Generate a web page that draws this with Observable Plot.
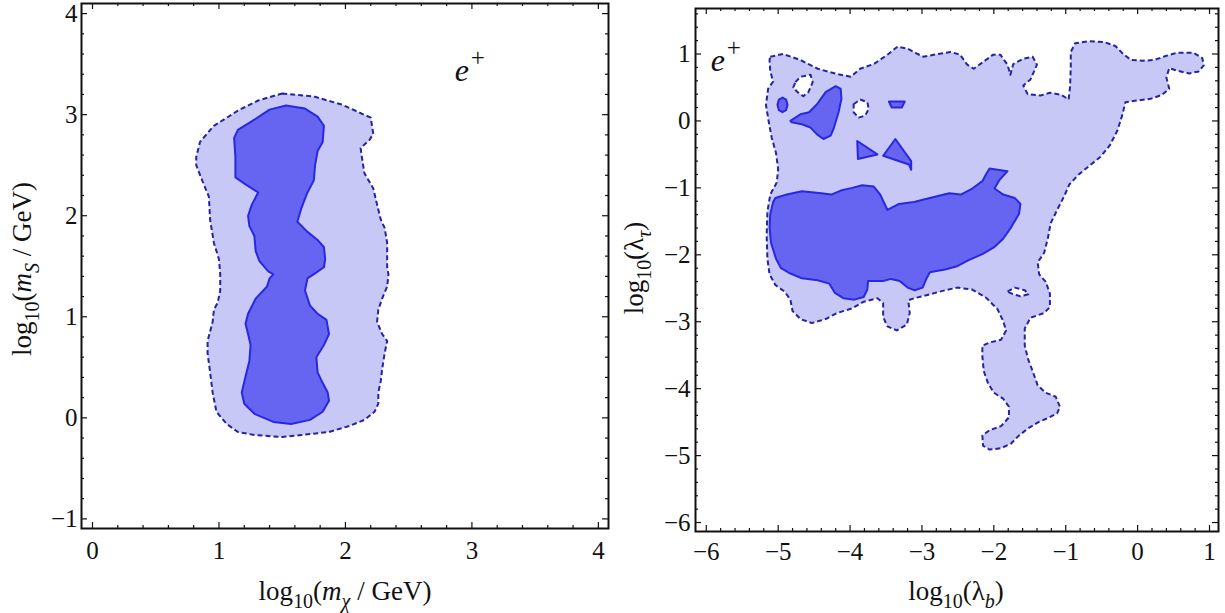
<!DOCTYPE html>
<html><head><meta charset="utf-8">
<script src="https://cdn.jsdelivr.net/npm/d3@7"></script>
<script src="https://cdn.jsdelivr.net/npm/@observablehq/plot@0.6"></script>
<style>
body{margin:0;background:#fff;}
#wrap{position:relative;width:1225px;height:613px;overflow:hidden;}
#wrap svg{position:absolute;top:0;}
</style></head><body><div id="wrap"></div>
<script>
// ---------- DATA (data units) ----------
// Left panel: log10(m_chi/GeV) vs log10(m_S/GeV)
const leftOuter = [[1.50,3.21],[1.75,3.18],[1.97,3.10],[2.20,2.97],[2.22,2.81],[2.19,2.75],[2.12,2.67],[2.13,2.58],[2.15,2.42],[2.22,2.27],[2.25,2.11],[2.28,1.96],[2.31,1.88],[2.33,1.73],[2.33,1.49],[2.34,1.42],[2.33,1.30],[2.29,1.18],[2.26,1.07],[2.25,0.95],[2.29,0.83],[2.33,0.76],[2.31,0.64],[2.29,0.48],[2.28,0.37],[2.26,0.25],[2.26,0.14],[2.23,0.06],[2.15,-0.02],[2.03,-0.08],[1.87,-0.14],[1.65,-0.17],[1.50,-0.19],[1.28,-0.17],[1.15,-0.14],[1.06,-0.06],[0.98,0.06],[0.95,0.25],[0.93,0.45],[0.91,0.64],[0.91,0.76],[0.95,0.95],[0.96,1.07],[0.99,1.14],[1.01,1.26],[1.01,1.42],[1.00,1.57],[0.96,1.73],[0.93,1.96],[0.92,2.19],[0.88,2.31],[0.82,2.50],[0.82,2.58],[0.85,2.73],[0.96,2.89],[1.15,3.04],[1.31,3.14]];
const leftInner = [[1.53,3.09],[1.68,3.06],[1.78,2.98],[1.83,2.89],[1.82,2.73],[1.78,2.64],[1.76,2.50],[1.75,2.35],[1.70,2.23],[1.65,2.07],[1.62,1.94],[1.70,1.84],[1.78,1.76],[1.83,1.69],[1.84,1.57],[1.83,1.49],[1.76,1.43],[1.70,1.38],[1.68,1.26],[1.72,1.11],[1.78,1.03],[1.85,0.97],[1.87,0.83],[1.83,0.72],[1.77,0.60],[1.78,0.45],[1.81,0.37],[1.86,0.25],[1.87,0.17],[1.82,0.06],[1.72,-0.02],[1.57,-0.06],[1.43,-0.04],[1.28,0.04],[1.20,0.14],[1.18,0.25],[1.21,0.41],[1.24,0.56],[1.25,0.72],[1.23,0.83],[1.21,0.93],[1.23,1.03],[1.29,1.18],[1.38,1.30],[1.40,1.38],[1.43,1.42],[1.39,1.45],[1.32,1.55],[1.29,1.65],[1.28,1.80],[1.24,1.90],[1.23,2.00],[1.26,2.11],[1.31,2.23],[1.21,2.31],[1.13,2.38],[1.13,2.58],[1.12,2.77],[1.15,2.85],[1.28,2.95],[1.40,3.05]];
const leftNote = [{x: 2.92, y: 3.33}];
const leftXTicks = [0, 1, 2, 3, 4];
const leftYTicks = [-1, 0, 1, 2, 3, 4];

// Right panel: log10(lambda_b) vs log10(lambda_tau)
const rightOuter = [[-5.11,0.96],[-4.93,1.00],[-4.69,0.91],[-4.45,0.78],[-4.18,0.70],[-3.99,0.66],[-3.86,0.78],[-3.67,0.85],[-3.48,0.99],[-3.34,1.11],[-3.20,1.08],[-3.06,1.00],[-2.98,0.96],[-2.78,1.00],[-2.60,1.03],[-2.47,0.99],[-2.37,0.84],[-2.28,0.78],[-2.15,0.88],[-2.01,0.99],[-1.91,0.99],[-1.81,0.84],[-1.77,0.69],[-1.73,0.85],[-1.59,0.93],[-1.46,0.96],[-1.40,0.84],[-1.49,0.62],[-1.59,0.53],[-1.53,0.40],[-1.35,0.38],[-1.22,0.42],[-1.06,0.39],[-0.96,0.32],[-0.94,0.51],[-0.93,0.80],[-0.93,1.03],[-0.87,1.16],[-0.68,1.19],[-0.47,1.18],[-0.31,1.12],[-0.20,1.00],[-0.09,0.91],[0.07,0.90],[0.23,0.91],[0.39,0.97],[0.55,1.02],[0.77,1.02],[0.90,0.94],[0.92,0.83],[0.85,0.74],[0.72,0.71],[0.55,0.75],[0.44,0.79],[0.40,0.65],[0.44,0.48],[0.34,0.39],[0.18,0.33],[-0.04,0.30],[-0.17,0.28],[-0.21,0.10],[-0.28,-0.14],[-0.39,-0.37],[-0.52,-0.54],[-0.66,-0.66],[-0.82,-0.80],[-0.95,-0.95],[-1.02,-1.12],[-1.12,-1.33],[-1.21,-1.53],[-1.25,-1.76],[-1.30,-1.97],[-1.39,-2.11],[-1.37,-2.29],[-1.28,-2.40],[-1.22,-2.58],[-1.22,-2.78],[-1.30,-2.87],[-1.49,-2.94],[-1.57,-3.10],[-1.57,-3.36],[-1.52,-3.57],[-1.46,-3.74],[-1.39,-3.95],[-1.28,-4.06],[-1.14,-4.12],[-1.08,-4.27],[-1.12,-4.37],[-1.25,-4.44],[-1.38,-4.50],[-1.52,-4.59],[-1.65,-4.70],[-1.76,-4.82],[-1.90,-4.89],[-2.06,-4.91],[-2.15,-4.85],[-2.16,-4.70],[-2.06,-4.62],[-1.90,-4.56],[-1.79,-4.43],[-1.79,-4.27],[-1.87,-4.15],[-2.00,-4.06],[-2.08,-3.92],[-2.14,-3.74],[-2.16,-3.51],[-2.16,-3.36],[-2.06,-3.31],[-1.90,-3.27],[-1.83,-3.13],[-1.87,-2.99],[-1.95,-2.81],[-2.11,-2.64],[-2.30,-2.52],[-2.51,-2.49],[-2.68,-2.53],[-2.89,-2.59],[-3.11,-2.65],[-3.19,-2.68],[-3.17,-2.87],[-3.21,-3.04],[-3.35,-3.13],[-3.48,-3.07],[-3.54,-2.93],[-3.54,-2.72],[-3.62,-2.65],[-3.81,-2.70],[-3.97,-2.80],[-4.18,-2.87],[-4.34,-2.96],[-4.53,-3.02],[-4.69,-2.96],[-4.80,-2.84],[-4.83,-2.67],[-4.91,-2.55],[-5.04,-2.45],[-5.12,-2.29],[-5.15,-2.06],[-5.16,-1.71],[-5.15,-1.36],[-5.11,-1.10],[-5.02,-0.92],[-5.00,-0.72],[-5.03,-0.48],[-5.09,-0.25],[-5.13,-0.02],[-5.17,0.24],[-5.14,0.48],[-5.07,0.59],[-5.11,0.74],[-5.12,0.91]];
const rightHole1 = [[-4.76,0.58],[-4.69,0.66],[-4.55,0.69],[-4.52,0.58],[-4.58,0.43],[-4.65,0.37],[-4.73,0.43],[-4.79,0.50]];
const rightHole2 = [[-3.95,0.25],[-3.86,0.32],[-3.76,0.28],[-3.74,0.18],[-3.79,0.08],[-3.88,0.05],[-3.95,0.13]];
const rightHole3 = [[-1.81,-2.55],[-1.71,-2.49],[-1.57,-2.53],[-1.52,-2.59],[-1.63,-2.62],[-1.73,-2.59]];
const rightInnerMain = [[-5.04,-1.15],[-4.88,-1.10],[-4.67,-1.05],[-4.40,-1.08],[-4.26,-1.10],[-4.13,-1.04],[-3.97,-1.00],[-3.83,-0.96],[-3.67,-0.98],[-3.58,-1.10],[-3.48,-1.33],[-3.32,-1.24],[-3.11,-1.21],[-2.89,-1.15],[-2.62,-1.08],[-2.46,-1.10],[-2.30,-1.01],[-2.16,-0.90],[-2.11,-0.80],[-2.06,-0.71],[-1.81,-0.75],[-1.92,-0.88],[-1.99,-1.01],[-1.87,-1.10],[-1.71,-1.15],[-1.63,-1.24],[-1.65,-1.39],[-1.76,-1.59],[-1.87,-1.76],[-2.00,-1.89],[-2.16,-1.99],[-2.35,-2.08],[-2.51,-2.17],[-2.68,-2.22],[-2.89,-2.26],[-2.94,-2.36],[-2.99,-2.49],[-3.10,-2.53],[-3.20,-2.49],[-3.31,-2.39],[-3.43,-2.36],[-3.54,-2.39],[-3.75,-2.39],[-3.76,-2.52],[-3.81,-2.63],[-3.94,-2.67],[-4.09,-2.65],[-4.21,-2.57],[-4.29,-2.43],[-4.45,-2.38],[-4.67,-2.35],[-4.83,-2.28],[-4.96,-2.20],[-5.03,-2.06],[-5.10,-1.82],[-5.12,-1.59],[-5.11,-1.39],[-5.07,-1.21]];
const rightInnerBlob = [[-4.83,0.00],[-4.69,0.10],[-4.57,0.13],[-4.46,0.25],[-4.34,0.43],[-4.20,0.52],[-4.13,0.48],[-4.12,0.33],[-4.16,0.13],[-4.23,-0.12],[-4.27,-0.22],[-4.37,-0.27],[-4.46,-0.20],[-4.55,-0.10],[-4.67,-0.05],[-4.81,-0.02]];
const rightInnerDot = [[-4.94,0.35],[-4.89,0.32],[-4.87,0.24],[-4.89,0.16],[-4.94,0.13],[-4.99,0.16],[-5.01,0.24],[-4.99,0.32]];
const rightInnerBar = [[-3.46,0.29],[-3.24,0.29],[-3.28,0.20],[-3.42,0.20]];
const rightInnerTri1 = [[-3.90,-0.30],[-3.62,-0.50],[-3.89,-0.57]];
const rightInnerTri2 = [[-3.37,-0.27],[-3.54,-0.52],[-3.18,-0.65],[-3.15,-0.73],[-3.15,-0.60]];
const rightNote = [{x: -5.84, y: 0.75}];
const rightXTicks = [-6, -5, -4, -3, -2, -1, 0, 1];
const rightYTicks = [-6, -5, -4, -3, -2, -1, 0, 1];

// ---------- STYLE ----------
const SERIF = "Liberation Serif, Times New Roman, DejaVu Serif, serif";
const LIGHT = "#c8c8f7";
const DARK = "#6565f1";
const OSTROKE = "#2323a4";
const ISTROKE = "#2828e0";
const INK = "#111";

function rows(polys) {
  return polys.flatMap((p, i) => p.map(([x, y]) => ({x, y, id: i})));
}
function minors(lo, hi) {
  return d3.range(Math.round(lo * 5), Math.round(hi * 5) + 1).map(k => k / 5).filter(v => Math.abs(v - Math.round(v)) > 1e-9);
}
const fmt = d => (d < 0 ? "\u2212" + (-d) : String(d));

function panel(o) {
  const iw = o.width - o.ml - o.mr, ih = o.height - o.mt - o.mb;
  const L = 6, l = 3;
  const xm = minors(Math.ceil(o.xd[0] * 5) / 5, Math.floor(o.xd[1] * 5) / 5);
  const ym = minors(Math.ceil(o.yd[0] * 5) / 5, Math.floor(o.yd[1] * 5) / 5);
  const tick = {stroke: INK, strokeWidth: 1.2};
  const lab = {text: fmt, fontFamily: SERIF, fontSize: 25, fill: INK};
  return Plot.plot({
    width: o.width, height: o.height,
    marginLeft: o.ml, marginRight: o.mr, marginTop: o.mt, marginBottom: o.mb,
    x: {domain: o.xd, axis: null}, y: {domain: o.yd, axis: null},
    style: {background: "transparent", overflow: "visible"},
    marks: [
      Plot.line(rows(o.outers), {x: "x", y: "y", z: "id", curve: "linear-closed", fill: LIGHT, stroke: OSTROKE, strokeWidth: 2, strokeDasharray: "5,3", strokeLinecap: "butt"}),
      Plot.line(rows(o.holes), {x: "x", y: "y", z: "id", curve: "linear-closed", fill: "white", stroke: OSTROKE, strokeWidth: 2, strokeDasharray: "5,3", strokeLinecap: "butt"}),
      Plot.line(rows(o.inners), {x: "x", y: "y", z: "id", curve: "linear-closed", fill: DARK, stroke: ISTROKE, strokeWidth: 2}),
      Plot.tickX(o.xt, {x: d => d, insetTop: ih - L, ...tick}),
      Plot.tickX(o.xt, {x: d => d, insetBottom: ih - L, ...tick}),
      Plot.tickX(xm, {x: d => d, insetTop: ih - l, ...tick}),
      Plot.tickX(xm, {x: d => d, insetBottom: ih - l, ...tick}),
      Plot.tickY(o.yt, {y: d => d, insetRight: iw - L, ...tick}),
      Plot.tickY(o.yt, {y: d => d, insetLeft: iw - L, ...tick}),
      Plot.tickY(ym, {y: d => d, insetRight: iw - l, ...tick}),
      Plot.tickY(ym, {y: d => d, insetLeft: iw - l, ...tick}),
      Plot.text(o.xt, {x: d => d, frameAnchor: "bottom", dy: o.xpad, lineAnchor: "top", textAnchor: "middle", ...lab}),
      Plot.text(o.yt, {y: d => d, frameAnchor: "left", dx: -o.ypad, lineAnchor: "middle", textAnchor: "end", ...lab}),
      Plot.text(o.note, {x: "x", y: "y", text: () => "e", fontStyle: "italic", fontFamily: SERIF, fontSize: 32, lineAnchor: "bottom", fill: INK}),
      Plot.text(o.note, {x: "x", y: "y", text: () => "+", fontFamily: SERIF, fontSize: 25, dx: 16, dy: -15, lineAnchor: "bottom", fill: INK}),
      Plot.frame({stroke: INK, strokeWidth: 2})
    ]
  });
}

function richText(svg, x, y, rotate, size, parts) {
  const t = d3.select(svg).append("text")
    .attr("transform", `translate(${x},${y}) rotate(${rotate})`)
    .attr("text-anchor", "middle")
    .attr("font-family", SERIF).attr("font-size", size).attr("fill", INK);
  let shift = 0;
  for (const p of parts) {
    const ts = t.append("tspan").text(p.t);
    const target = p.sub ? size * 0.3 : 0;
    if (target !== shift) { ts.attr("dy", target - shift); shift = target; }
    if (p.sub) ts.attr("font-size", size * 0.74);
    if (p.it) ts.attr("font-style", "italic");
  }
}

const wrap = document.getElementById("wrap");

const left = panel({
  width: 620, height: 613, ml: 81, mr: 12, mt: 3, mb: 85,
  xd: [-0.087, 4.08], yd: [-1.095, 4.1],
  xt: leftXTicks, yt: leftYTicks, xpad: 13, ypad: 4,
  outers: [leftOuter], holes: [], inners: [leftInner], note: leftNote
});
left.style.left = "0px";
wrap.appendChild(left);
richText(left, 345, 600, 0, 27, [{t: "log"}, {t: "10", sub: true}, {t: "("}, {t: "m", it: true}, {t: "χ", sub: true, it: true}, {t: " / "}, {t: "GeV)"}]);
richText(left, 31, 269, -90, 27, [{t: "log"}, {t: "10", sub: true}, {t: "("}, {t: "m", it: true}, {t: "S", sub: true, it: true}, {t: " / "}, {t: "GeV)"}]);

const right = panel({
  width: 605, height: 613, ml: 75, mr: 7, mt: 8, mb: 82,
  xd: [-6.15, 1.125], yd: [-6.134, 1.68],
  xt: rightXTicks, yt: rightYTicks, xpad: 11, ypad: 5,
  outers: [rightOuter], holes: [rightHole1, rightHole2, rightHole3],
  inners: [rightInnerMain, rightInnerBlob, rightInnerDot, rightInnerBar, rightInnerTri1, rightInnerTri2],
  note: rightNote
});
right.style.left = "620px";
wrap.appendChild(right);
richText(right, 336, 600, 0, 27, [{t: "log"}, {t: "10", sub: true}, {t: "(λ"}, {t: "b", sub: true, it: true}, {t: ")"}]);
richText(right, 23, 268, -90, 27, [{t: "log"}, {t: "10", sub: true}, {t: "(λ"}, {t: "τ", sub: true, it: true}, {t: ")"}]);
</script>
</body></html>
